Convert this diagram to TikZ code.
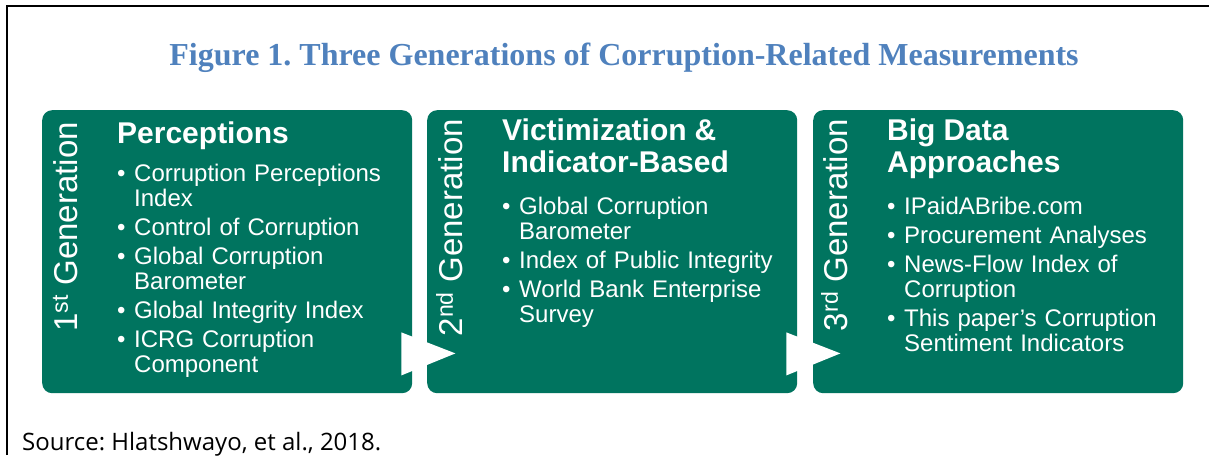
\documentclass[tikz,border=0pt]{standalone}
\usepackage{fontspec}
\setmainfont{Liberation Sans}
\newfontfamily\titlefont{Liberation Serif}
\newfontfamily\sourcefont{Open Sans}
\definecolor{gengreen}{HTML}{00745F}
\definecolor{figblue}{HTML}{4F81BD}
\frenchspacing

% bullet line with hanging indent
\newcommand\genitem[1]{\hangindent=17pt\hangafter=1\noindent\makebox[17pt][l]{\textbullet}#1\par}
\newcommand\genhead[1]{{\fontsize{30}{32}\selectfont\bfseries #1\par}}

\begin{document}
\begin{tikzpicture}[x=1pt,y=-1pt,
    genbox/.style={fill=gengreen,rounded corners=10pt,inner sep=0pt,minimum width=370pt,minimum height=283pt,anchor=north west},
    gentag/.style={text=white,font=\fontsize{33}{33}\selectfont,rotate=90,anchor=base east,inner sep=0pt},
    genlist/.style={text=white,text width=300pt,align=left,anchor=north west,inner sep=0pt,font=\fontsize{24}{25}\selectfont}]
    \useasboundingbox[fill=white] (0,0) rectangle (1209,455);
    \draw[line width=2pt] (7,455) -- (7,6) -- (1209,6);

    \node[anchor=base,inner sep=0pt,text=figblue,font=\titlefont\bfseries\fontsize{32}{32}\selectfont] (title) at (624,65) {Figure 1. Three Generations of Corruption-Related Measurements};

    % the three boxes
    \node[genbox] (gen1) at (42,110) {};
    \node[genbox] (gen2) at (427,110) {};
    \node[genbox] (gen3) at (813,110) {};

    % white arrow heads between boxes
    \foreach \g in {gen1,gen2}
        \fill[white] ([xshift=-11pt,yshift=61pt]\g.south east) -- ([xshift=43pt,yshift=40pt]\g.south east) -- ([xshift=-11pt,yshift=18pt]\g.south east) -- cycle;

    \node[gentag] (tag1) at (77,122) {1\textsuperscript{st} Generation};
    \node[gentag] (tag2) at (462,119) {2\textsuperscript{nd} Generation};
    \node[gentag] (tag3) at (847,119) {3\textsuperscript{rd} Generation};

    \node[genlist] (list1) at (117,122) {\setlength{\parskip}{4pt}\genhead{Perceptions}\vspace{9pt}
        \genitem{Corruption Perceptions\newline Index}
        \genitem{Control of Corruption}
        \genitem{Global Corruption\newline Barometer}
        \genitem{Global Integrity Index}
        \genitem{ICRG Corruption\newline Component}};
    \node[genlist] (list2) at (502,119) {\setlength{\parskip}{4pt}\genhead{Victimization \&\newline Indicator-Based}\vspace{13pt}
        \genitem{Global Corruption\newline Barometer}
        \genitem{Index of Public Integrity}
        \genitem{World Bank Enterprise\newline Survey}};
    \node[genlist] (list3) at (887,119) {\setlength{\parskip}{4pt}\genhead{Big Data\newline Approaches}\vspace{13pt}
        \genitem{IPaidABribe.com}
        \genitem{Procurement Analyses}
        \genitem{News-Flow Index of\newline Corruption}
        \genitem{This paper's Corruption\newline Sentiment Indicators}};

    \node[anchor=base west,inner sep=0pt,font=\sourcefont\fontsize{24}{24}\selectfont] (source) at (22,450) {Source: Hlatshwayo, et al., 2018.};
\end{tikzpicture}
\end{document}
